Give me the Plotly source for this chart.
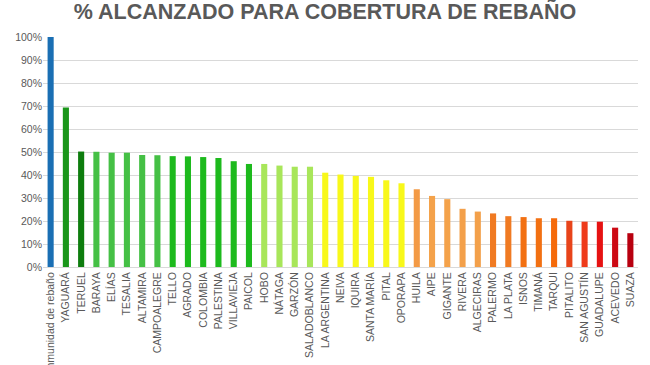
import plotly.graph_objects as go

categories = ["Inmunidad de rebaño", "YAGUARÁ", "TERUEL", "BARAYA", "ELÍAS", "TESALIA", "ALTAMIRA",
              "CAMPOALEGRE", "TELLO", "AGRADO", "COLOMBIA", "PALESTINA", "VILLAVIEJA", "PAICOL",
              "HOBO", "NÁTAGA", "GARZÓN", "SALADOBLANCO", "LA ARGENTINA", "NEIVA", "IQUIRA",
              "SANTA MARÍA", "PITAL", "OPORAPA", "HUILA", "AIPE", "GIGANTE", "RIVERA", "ALGECIRAS",
              "PALERMO", "LA PLATA", "ISNOS", "TIMANÁ", "TARQUI", "PITALITO", "SAN AGUSTÍN",
              "GUADALUPE", "ACEVEDO", "SUAZA"]

values = [100, 69.4, 50.2, 50.1, 49.7, 49.7, 48.7, 48.6, 48.2, 48.1, 47.8, 47.4, 46.0, 44.8,
          44.8, 44.1, 43.6, 43.6, 41.0, 40.2, 39.6, 39.2, 37.7, 36.4, 33.8, 30.9, 29.5, 25.3,
          24.1, 23.3, 22.1, 21.7, 21.2, 21.2, 20.1, 19.7, 19.7, 17.1, 14.7]

colors = ["#1a6fb4", "#1a961a", "#0e7d0e",
          "#45c045", "#45c045", "#45c045", "#45c045", "#45c045",
          "#1dba1d", "#1dba1d", "#1dba1d", "#1dba1d", "#1dba1d", "#1dba1d",
          "#a8e65a", "#a8e65a", "#a8e65a", "#a8e65a",
          "#f8f81a", "#f8f81a", "#f8f81a", "#f8f81a", "#f8f81a", "#f8f81a",
          "#f39a45", "#f4a24a", "#f4a24a", "#f3a04a", "#f3a04a",
          "#f07a22", "#f07a22", "#f27012", "#f27012", "#f56a0a",
          "#e8441a", "#ee3a1a", "#e61212", "#cc0a14", "#b8000f"]

tick_vals = [0, 10, 20, 30, 40, 50, 60, 70, 80, 90, 100]
tick_text = [f"{v}%" for v in tick_vals]

fig = go.Figure(go.Bar(x=categories, y=values, marker_color=colors, marker_line_width=0, width=0.4))

fig.update_layout(
    width=650, height=365,
    margin=dict(l=43, r=12, t=37, b=98),
    paper_bgcolor="white", plot_bgcolor="white",
    title=dict(text="<b>% ALCANZADO PARA COBERTURA DE REBAÑO</b>", x=0.5, xanchor="center",
               y=0.968, yanchor="middle",
               font=dict(family="Liberation Sans, Arial", size=21.5, color="#595959")),
    showlegend=False,
    font=dict(family="Liberation Sans, Arial", color="#595959"),
)
fig.update_xaxes(tickangle=-90, tickfont=dict(size=10.5, color="#595959"), showgrid=False,
                 showline=True, linecolor="#d9d9d9", linewidth=1, ticks="", automargin=False)
fig.update_yaxes(range=[0, 100], tickvals=tick_vals, ticktext=tick_text,
                 tickfont=dict(size=10.5, color="#595959"), showgrid=True, gridcolor="#d9d9d9",
                 gridwidth=1, zeroline=False, showline=False, automargin=False)

fig.write_html("out.html", config={"displayModeBar": False},
               post_script="document.body.style.margin='0';")
